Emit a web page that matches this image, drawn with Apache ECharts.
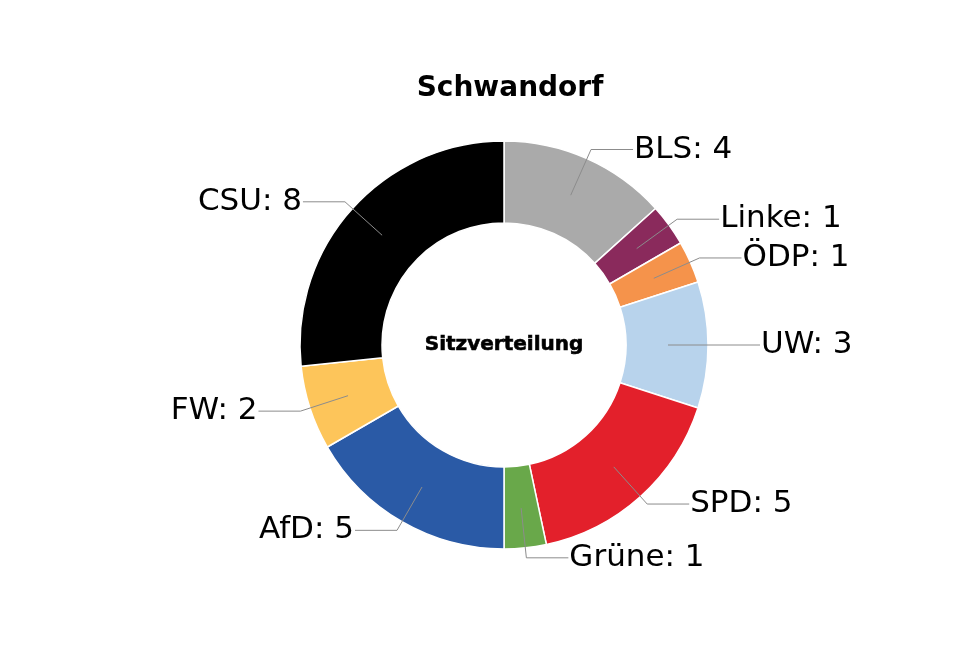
<!DOCTYPE html>
<html>
<head>
<meta charset="utf-8">
<script src="https://cdn.jsdelivr.net/npm/echarts@6/dist/echarts.min.js"></script>
<style>html,body{margin:0;padding:0;background:#fff;}#c{width:980px;height:658px;}</style>
</head>
<body>
<div id="c"></div>
<script>
const parties = ['BLS', 'Linke', 'ÖDP', 'UW', 'SPD', 'Grüne', 'AfD', 'FW', 'CSU'];
const seats = [4, 1, 1, 3, 5, 1, 5, 2, 8];
const colors = ['#aaaaaa', '#8a2a5c', '#f5934b', '#b8d3ec', '#e3202b', '#69a84a', '#2a5aa6', '#fdc55a', '#000000'];
const titleText = 'Schwandorf';
const centerText = 'Sitzverteilung';

const chart = echarts.init(document.getElementById('c'));
const cx = 504, cy = 345;
const mainData = parties.map((p, i) => ({ name: p, value: seats[i], itemStyle: { color: colors[i] } }));
const labelData = parties.map((p, i) => ({ name: p, value: seats[i] }));

chart.setOption({
  animation: false,
  backgroundColor: '#ffffff',
  graphic: [
    { type: 'text', x: 510, y: 89, z: 100, style: { text: titleText, font: 'bold 28px "DejaVu Sans"', fill: '#000', textAlign: 'center', textVerticalAlign: 'middle' } },
    { type: 'text', x: cx, y: cy, z: 100, style: { text: centerText, font: 'bold 20px "DejaVu Sans"', fill: '#000', stroke: '#000', lineWidth: 0.6, textAlign: 'center', textVerticalAlign: 'middle' } }
  ],
  series: [
    {
      type: 'pie',
      center: [cx, cy],
      radius: [122, 204],
      startAngle: 90,
      clockwise: true,
      silent: true,
      label: { show: false },
      labelLine: { show: false },
      itemStyle: { borderColor: '#ffffff', borderWidth: 1.5 },
      data: mainData,
      z: 1
    },
    {
      type: 'pie',
      center: [cx, cy],
      radius: [0, 164],
      startAngle: 90,
      clockwise: true,
      silent: true,
      avoidLabelOverlap: false,
      itemStyle: { color: 'rgba(0,0,0,0)', borderWidth: 0 },
      label: {
        show: true,
        position: 'outside',
        formatter: '{b}: {c}',
        fontFamily: 'DejaVu Sans',
        fontSize: 31,
        color: '#000',
        distanceToLabelLine: 1
      },
      labelLine: {
        show: true,
        length: 50,
        length2: 42,
        smooth: false,
        lineStyle: { color: '#8c8c8c', width: 1 }
      },
      data: labelData,
      z: 5
    }
  ]
});
</script>
</body>
</html>
